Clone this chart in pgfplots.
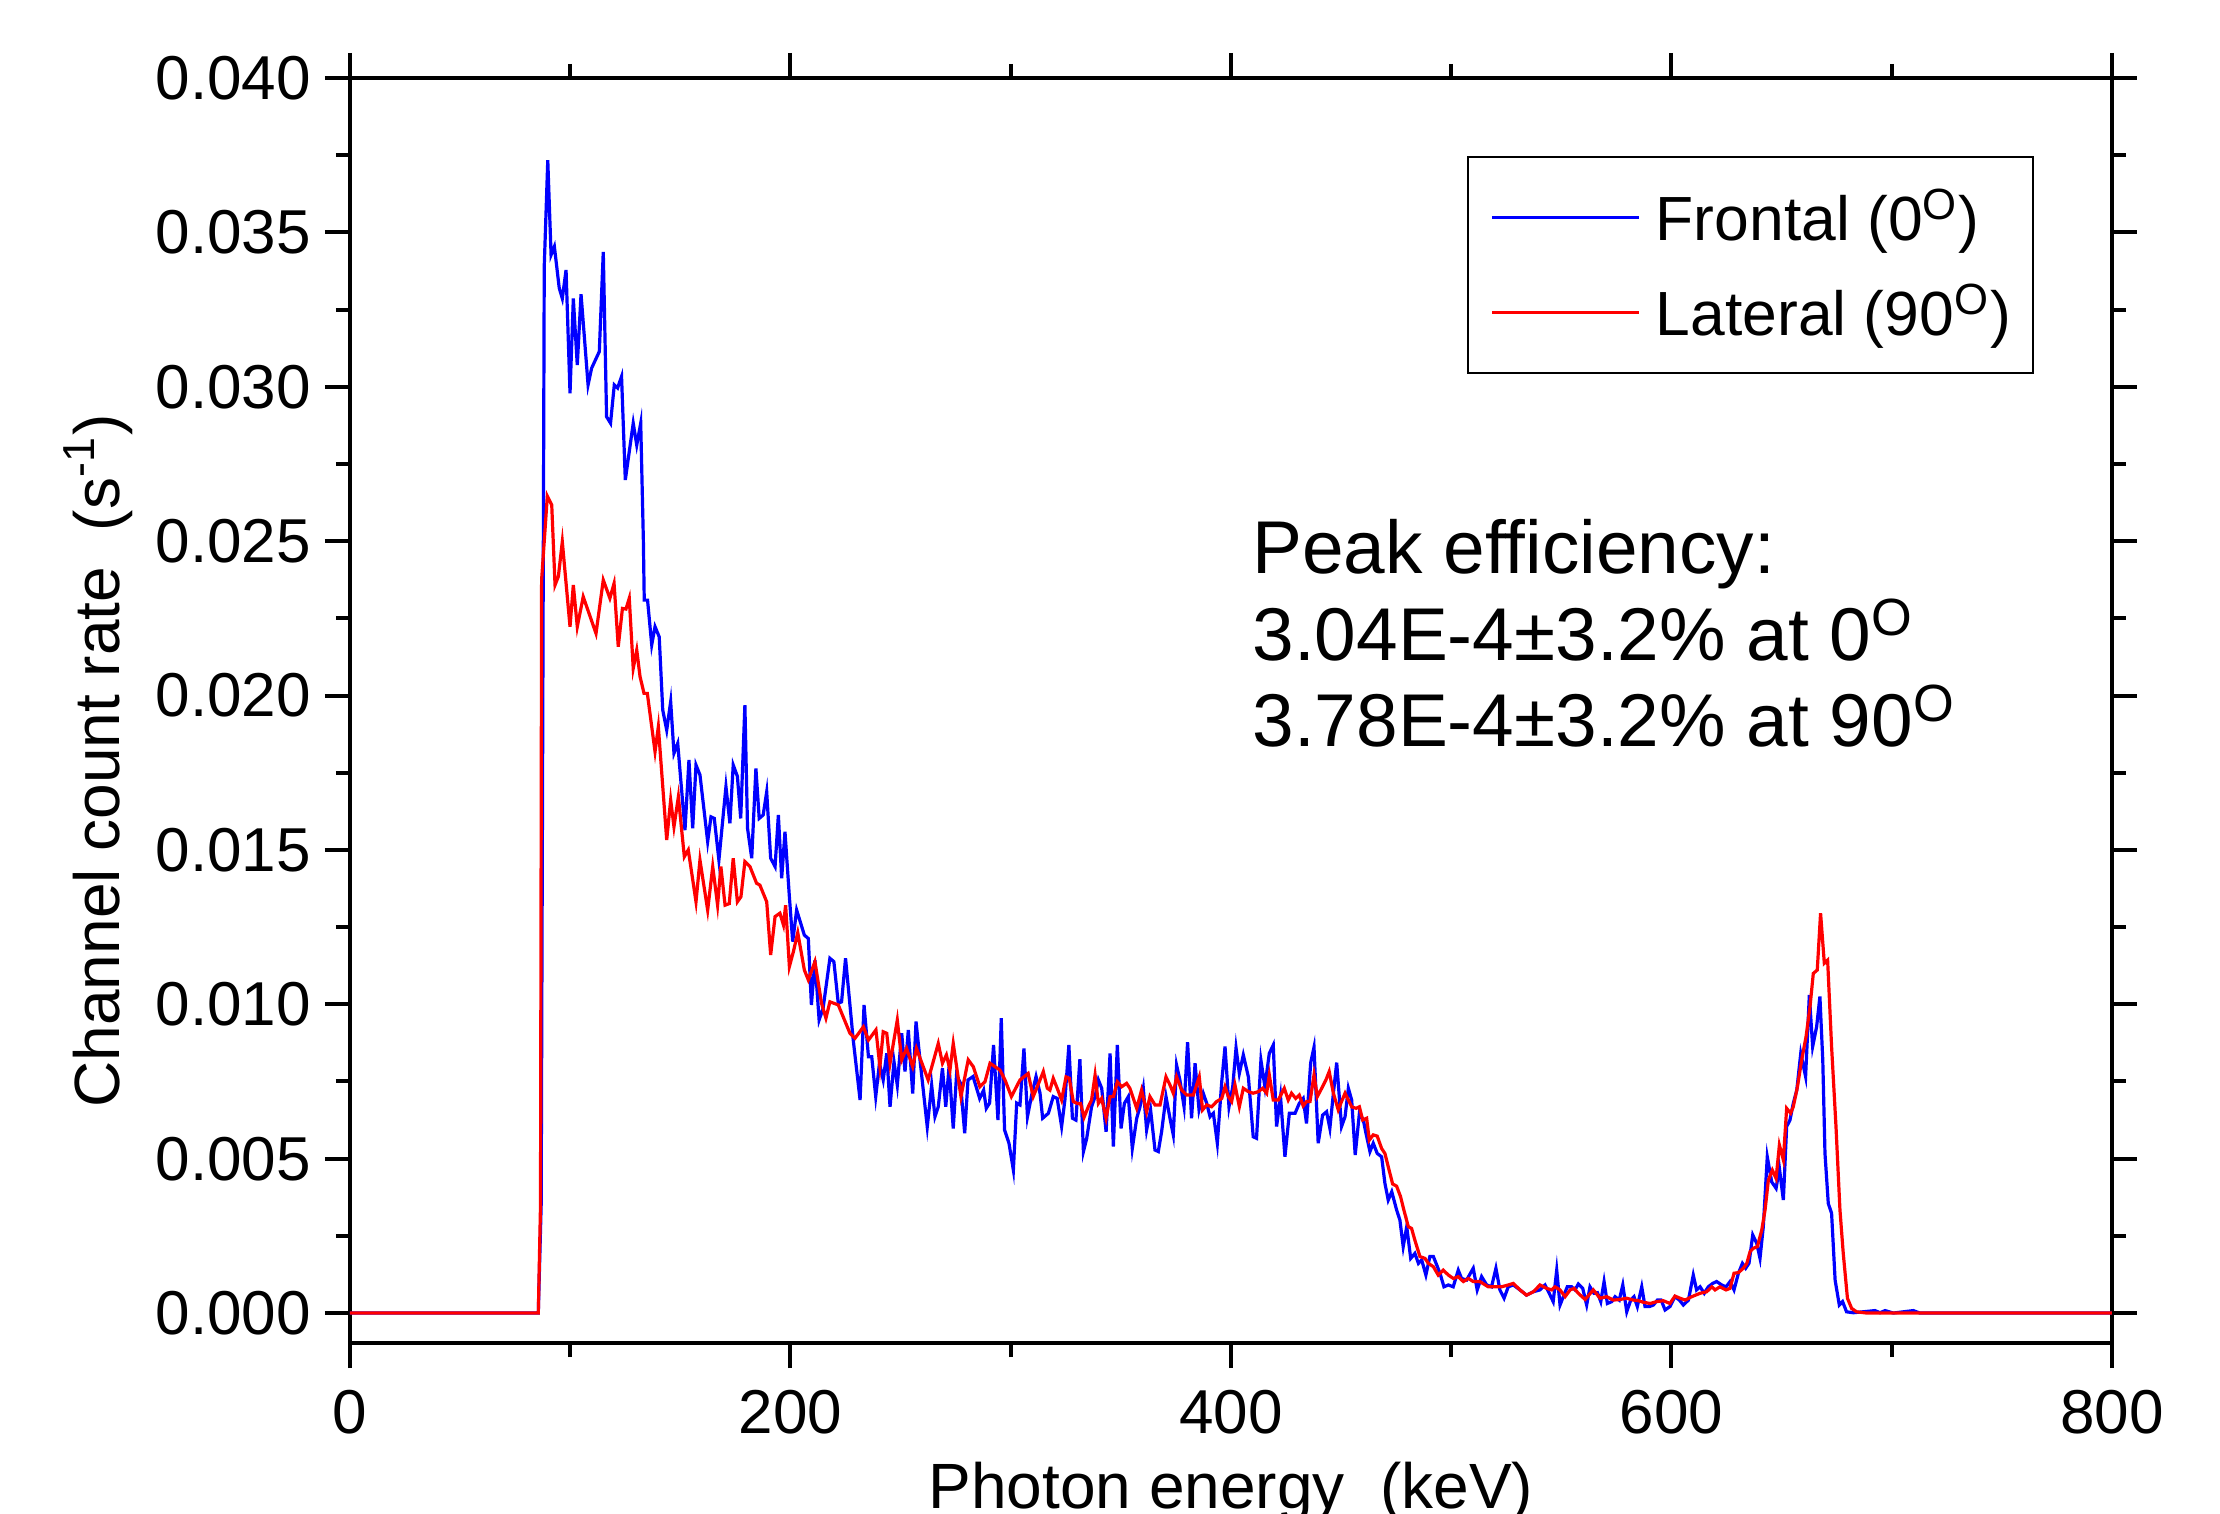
\documentclass[border=0pt]{standalone}
\usepackage{fontspec}
\setmainfont{Liberation Sans}
\usepackage{pgfplots}
\pgfplotsset{compat=1.18}

\begin{document}
\begin{tikzpicture}
\begin{axis}[
    scale only axis,
    width=440.5pt, height=316.25pt,
    xmin=0, xmax=800,
    ymin=-0.00097, ymax=0.040,
    xtick={0,200,400,600,800},
    minor xtick={100,300,500,700},
    ytick={0,0.005,0.010,0.015,0.020,0.025,0.030,0.035,0.040},
    minor ytick={0.0025,0.0075,0.0125,0.0175,0.0225,0.0275,0.0325,0.0375},
    scaled y ticks=false,
    yticklabel style={/pgf/number format/.cd, fixed, fixed zerofill, precision=3},
    /pgf/number format/assume math mode=true,
    tick label style={font=\fontsize{15.5}{18}\selectfont},
    xticklabel style={yshift=-2pt},
    tick align=outside,
    tick pos=both,
    major tick length=6.25pt,
    minor tick length=3.5pt,
    every tick/.style={black, line width=1pt},
    axis line style={line width=1pt},
    xlabel={Photon energy\ \ (keV)},
    ylabel={Channel count rate\ \ (s\textsuperscript{-1})},
    every axis x label/.style={at={(rel axis cs:0.5,0)}, anchor=base, yshift=-41.25pt,
        font=\fontsize{16}{19}\selectfont},
    every axis y label/.style={at={(rel axis cs:0,0.46)}, rotate=90, anchor=base, yshift=57.5pt,
        font=\fontsize{16}{19}\selectfont},
    legend style={at={(rel axis cs:0.9557,0.9383)}, anchor=north east,
        draw=black, line width=0.5pt,
        font=\fontsize{15.6}{19}\selectfont,
        nodes={inner sep=2pt},
        inner xsep=3.5pt, inner ysep=6pt, row sep=5.3pt,
        cells={anchor=west}},
    legend image code/.code={\path (-2.1pt,0pt); \draw[#1] (0pt,0pt) -- (36.75pt,0pt); \path (38.55pt,0pt);},
]

% Frontal (0 deg)
\addplot[color={rgb,255:red,0;green,0;blue,255}, line width=0.8pt] table {
x y
0 0
85.5 0
86.8 0.0035
88.2 0.0339
89.8 0.03734
91.3 0.03427
92.8 0.03454
95.0 0.0332
96.4 0.03286
98.1 0.03378
99.9 0.02979
101.4 0.03286
103.2 0.0307
104.9 0.0330
108.1 0.03006
109.7 0.0306
113.2 0.03114
115.0 0.03437
116.5 0.02903
118.3 0.02882
120.0 0.03006
121.5 0.02996
123.3 0.03033
125.0 0.02698
128.6 0.02882
130.2 0.02811
132.0 0.02882
133.2 0.02504
133.6 0.02309
135.1 0.02309
137.0 0.02164
138.5 0.02223
140.4 0.0219
142.0 0.01953
143.8 0.01888
145.6 0.0198
147.1 0.01813
148.8 0.01845
152.1 0.01564
153.9 0.01791
155.6 0.0157
157.1 0.01775
158.9 0.01743
162.4 0.01527
163.9 0.01607
165.4 0.01602
167.5 0.01467
170.7 0.01705
172.5 0.01586
174.0 0.01775
175.9 0.01738
177.4 0.01602
179.3 0.01969
180.5 0.0157
182.4 0.01473
184.3 0.01764
185.8 0.01602
187.6 0.01613
189.2 0.01688
191.0 0.01473
193.0 0.01446
194.5 0.01613
196.0 0.01408
197.5 0.01559
199.5 0.01348
201.0 0.01203
202.8 0.01305
206.3 0.01224
208.1 0.01213
209.5 0.00998
211.1 0.01143
213.0 0.00949
214.8 0.00987
217.9 0.01149
219.7 0.01138
221.7 0.01003
223.2 0.01008
225.0 0.01149
228.5 0.00884
231.6 0.0069
233.4 0.00998
235.4 0.0083
236.9 0.0083
238.7 0.00701
240.4 0.00809
242.1 0.00755
243.7 0.00841
245.2 0.00668
247.0 0.00814
248.5 0.00738
250.5 0.00906
252.0 0.00782
253.5 0.00917
255.5 0.00711
257.0 0.00944
258.8 0.0082
262.1 0.00603
264.1 0.00738
265.6 0.00636
267.1 0.00668
269.0 0.00793
270.5 0.00668
272.0 0.00798
273.9 0.00598
275.4 0.00771
277.2 0.00744
279.1 0.00582
280.6 0.00755
282.9 0.00766
285.9 0.00695
287.7 0.00722
288.9 0.00663
290.4 0.0068
292.2 0.00868
294.2 0.00625
295.7 0.00955
297.2 0.00593
299.2 0.0055
301.2 0.00463
302.7 0.0068
304.2 0.00674
306.0 0.00857
307.6 0.00636
309.5 0.00706
311.5 0.00766
313.3 0.00712
314.5 0.00631
317.1 0.00647
319.3 0.00701
321.1 0.00695
323.1 0.00604
324.6 0.00690
326.4 0.00868
328.0 0.00631
329.6 0.00625
331.4 0.00822
333.0 0.00523
334.5 0.00566
336.7 0.00668
338.3 0.00701
339.8 0.00755
341.3 0.00728
343.3 0.00587
345.1 0.00841
346.6 0.00539
348.4 0.00868
350.1 0.00598
351.6 0.00679
353.4 0.00701
355.2 0.00533
357.2 0.00631
358.7 0.00668
360.2 0.00728
361.7 0.00593
363.5 0.00658
365.5 0.00528
367.0 0.00523
368.5 0.00587
370.5 0.00701
372.3 0.00631
373.8 0.00577
375.3 0.00803
376.8 0.00755
378.7 0.00668
380.3 0.00877
382.1 0.00631
383.7 0.00809
385.5 0.00658
387.4 0.00712
389.0 0.00679
390.5 0.00636
392.0 0.00647
393.8 0.00550
395.8 0.00749
397.3 0.00863
399.1 0.00668
400.8 0.00733
402.3 0.00859
403.8 0.00776
405.6 0.00836
407.9 0.00765
410.1 0.00571
411.6 0.00566
413.6 0.00819
415.4 0.00733
417.4 0.00841
419.2 0.00868
420.7 0.00604
422.5 0.00701
424.5 0.00506
426.5 0.00647
429.1 0.00647
431.0 0.00679
432.8 0.00695
434.3 0.00614
436.2 0.00811
437.7 0.00861
439.6 0.00550
441.6 0.00641
443.4 0.00652
444.9 0.00598
446.5 0.00712
448.0 0.00811
450.2 0.00604
451.8 0.00636
453.3 0.00728
454.8 0.00690
456.4 0.00512
458.3 0.00647
460.1 0.00625
461.3 0.00582
463.1 0.00523
464.6 0.00550
466.4 0.00517
468.4 0.00506
469.9 0.00420
471.4 0.00366
473.0 0.00393
475.2 0.00334
476.7 0.00301
478.2 0.00215
479.8 0.00280
481.6 0.00177
483.5 0.00193
485.1 0.00161
486.6 0.00172
488.5 0.00123
490.3 0.00183
491.9 0.00183
494.9 0.00129
496.7 0.00085
498.7 0.00091
500.9 0.00085
503.2 0.00139
504.7 0.00112
507.0 0.00107
510.0 0.00145
511.8 0.00075
513.8 0.00118
516.1 0.00091
518.3 0.00085
520.3 0.00145
522.1 0.00075
524.0 0.00048
525.9 0.00085
528.2 0.00091
531.2 0.00075
534.2 0.00058
537.3 0.00069
540.3 0.00075
542.6 0.00091
544.5 0.00064
546.3 0.00037
547.9 0.00139
549.4 0.00026
550.9 0.00053
552.7 0.00085
554.7 0.00085
556.2 0.00075
557.7 0.00094
559.7 0.00080
561.5 0.00026
563.0 0.00085
564.8 0.00064
566.4 0.00066
567.9 0.00037
569.4 0.00102
570.9 0.00031
572.9 0.00037
574.4 0.00053
576.3 0.00042
577.9 0.00091
579.7 0.00004
581.5 0.00042
583.0 0.00053
584.5 0.00021
586.5 0.00085
588.0 0.00021
590.0 0.00021
591.8 0.00026
593.6 0.00042
595.3 0.00042
597.1 0.00010
599.3 0.00021
601.6 0.00053
603.6 0.00042
605.4 0.00026
607.7 0.00042
609.9 0.00123
611.4 0.00075
613.0 0.00085
614.9 0.00064
616.7 0.00085
618.7 0.00096
620.5 0.00102
622.8 0.00091
624.8 0.00085
626.6 0.00102
628.4 0.00075
630.4 0.00129
632.2 0.00161
633.7 0.00145
635.2 0.00161
636.9 0.00253
638.7 0.00226
640.2 0.00177
641.7 0.00280
643.5 0.00506
645.5 0.00425
647.5 0.00404
649.0 0.00469
650.8 0.00366
652.3 0.00604
653.8 0.00625
655.3 0.00679
656.9 0.00722
658.7 0.00841
660.9 0.00766
662.6 0.01030
664.1 0.00863
665.9 0.00927
667.4 0.01025
668.7 0.00819
669.7 0.00517
671.2 0.00355
672.7 0.00323
674.3 0.00107
676.2 0.00026
677.7 0.00037
679.5 0.00004
682.6 0.00001
692.4 0.00008
694.7 0.00001
697.0 0.00008
700.7 0
709.8 0.00008
712.8 0
800 0
};
\addlegendentry{Frontal (0\textsuperscript{O})}

% Lateral (90 deg)
\addplot[color={rgb,255:red,255;green,0;blue,0}, line width=0.8pt] table {
x y
0 0
85.5 0
86.5 0.0035
87.0 0.02374
89.6 0.02646
91.6 0.02617
93.1 0.02358
94.6 0.02385
96.4 0.02498
99.9 0.02223
101.4 0.02358
103.2 0.02223
105.9 0.0232
111.7 0.02201
115.0 0.02374
118.0 0.02315
119.9 0.02363
121.8 0.02158
123.7 0.02282
125.3 0.0228
126.8 0.02315
128.6 0.02088
130.2 0.02147
131.7 0.02061
133.5 0.02007
135.0 0.02007
138.5 0.01818
140.0 0.01899
143.8 0.01532
145.6 0.01662
147.1 0.01575
149.1 0.01672
151.8 0.01478
153.6 0.015
157.1 0.01332
158.9 0.01467
162.4 0.01305
164.7 0.01446
166.9 0.01321
168.4 0.01446
170.3 0.01321
172.2 0.01326
174.0 0.01473
175.9 0.01332
177.5 0.01348
179.3 0.01462
181.6 0.01446
184.6 0.01392
186.1 0.01386
189.2 0.01332
191.0 0.0116
193.0 0.01284
195.2 0.01295
196.8 0.01257
197.8 0.01321
199.5 0.01122
201.3 0.0117
203.3 0.01232
206.3 0.01111
208.1 0.01079
211.1 0.01138
214.1 0.01003
216.1 0.00955
217.9 0.01008
221.7 0.00998
227.0 0.00906
229.3 0.0089
233.1 0.00927
235.4 0.00884
238.8 0.00917
240.6 0.00798
242.1 0.00911
243.7 0.00906
245.2 0.00809
248.5 0.00949
250.5 0.0082
252.7 0.00857
255.5 0.00798
257.2 0.00857
262.5 0.00755
267.1 0.00873
269.0 0.00809
270.8 0.00836
272.4 0.00787
273.9 0.00873
277.4 0.00701
280.7 0.0082
283.0 0.00798
286.0 0.00733
288.3 0.00749
290.6 0.00809
295.1 0.00787
297.4 0.00755
300.3 0.00701
304.2 0.00755
307.9 0.00776
310.2 0.00701
313.3 0.00755
314.8 0.00782
316.6 0.00728
317.8 0.00722
319.3 0.00760
321.1 0.00728
323.1 0.00690
325.1 0.00765
326.6 0.00760
328.4 0.00685
330.2 0.00679
331.7 0.00679
333.3 0.00634
335.2 0.00668
336.7 0.00690
338.3 0.00771
339.8 0.00679
341.3 0.00695
343.3 0.00631
345.1 0.00701
346.6 0.00701
348.4 0.00749
350.4 0.00733
352.6 0.00744
354.1 0.00728
357.2 0.00663
359.4 0.00722
361.7 0.00652
363.2 0.00701
365.5 0.00674
367.8 0.00674
370.5 0.00765
372.3 0.00739
373.8 0.00712
375.3 0.00765
377.6 0.00722
379.9 0.00706
382.9 0.00706
385.6 0.00765
387.1 0.00658
389.0 0.00674
391.2 0.00668
393.5 0.00685
395.8 0.00695
397.3 0.00733
398.8 0.00701
400.3 0.00685
401.8 0.00739
403.8 0.00668
405.6 0.00728
407.9 0.00717
410.1 0.00712
412.4 0.00717
414.4 0.00728
416.2 0.00712
417.4 0.00771
419.2 0.00690
421.5 0.00690
424.2 0.00728
426.0 0.00690
427.5 0.00712
429.4 0.00695
431.0 0.00706
432.8 0.00671
434.3 0.00685
435.9 0.00685
437.7 0.00771
439.2 0.00701
441.2 0.00728
443.1 0.00755
444.6 0.00782
446.5 0.00712
448.7 0.00658
450.2 0.00685
451.8 0.00712
453.3 0.00690
454.8 0.00668
456.8 0.00663
458.3 0.00668
459.8 0.00625
461.6 0.00631
462.8 0.00560
464.6 0.00577
466.4 0.00573
468.4 0.00533
469.9 0.00517
471.4 0.00474
473.4 0.00418
475.2 0.00411
477.0 0.00377
478.5 0.00334
480.5 0.00280
482.0 0.00274
483.5 0.00236
485.8 0.00183
488.1 0.00177
489.6 0.00161
491.9 0.00150
494.1 0.00123
496.4 0.00139
498.7 0.00123
501.0 0.00112
503.2 0.00118
505.5 0.00102
507.8 0.00112
510.0 0.00102
513.0 0.00102
516.8 0.00085
519.9 0.00085
522.9 0.00085
525.9 0.00091
528.2 0.00096
531.2 0.00075
534.2 0.00058
537.3 0.00069
540.3 0.00091
543.3 0.00080
545.6 0.00075
547.1 0.00085
549.4 0.00075
551.7 0.00053
554.0 0.00075
555.8 0.00080
557.7 0.00064
560.8 0.00044
564.5 0.00075
567.6 0.00048
570.6 0.00053
573.6 0.00042
576.6 0.00044
579.7 0.00048
582.7 0.00042
585.0 0.00040
587.2 0.00035
590.3 0.00031
593.3 0.00037
596.3 0.00040
599.3 0.00031
601.6 0.00055
603.9 0.00048
606.2 0.00042
609.2 0.00053
613.0 0.00064
616.0 0.00069
618.3 0.00085
619.8 0.00075
622.0 0.00085
624.8 0.00075
626.6 0.00080
628.4 0.00129
630.4 0.00131
632.6 0.00145
634.2 0.00161
635.7 0.00199
637.2 0.00210
639.0 0.00215
641.0 0.00269
642.5 0.00334
644.0 0.00431
645.8 0.00463
647.5 0.00436
649.0 0.00544
650.8 0.00496
652.3 0.00663
654.1 0.00647
655.3 0.00668
657.2 0.00733
659.1 0.00819
661.1 0.00895
662.9 0.00992
664.4 0.01100
666.2 0.01111
667.7 0.01295
669.4 0.01133
670.9 0.01143
672.7 0.00863
674.7 0.00604
676.5 0.00334
678.0 0.00193
679.9 0.00048
681.8 0.00015
684.1 0.00004
688.6 0
800 0
};
\addlegendentry{Lateral (90\textsuperscript{O})}

\node[anchor=base west, inner sep=0pt, font=\fontsize{18.7}{22}\selectfont] at (axis cs:409.4,0.02395) {Peak efficiency:};
\node[anchor=base west, inner sep=0pt, font=\fontsize{18.7}{22}\selectfont] at (axis cs:409.4,0.02112) {3.04E-4±3.2\% at 0\textsuperscript{O}};
\node[anchor=base west, inner sep=0pt, font=\fontsize{18.7}{22}\selectfont] at (axis cs:409.4,0.01836) {3.78E-4±3.2\% at 90\textsuperscript{O}};
\end{axis}
\pgfresetboundingbox
\path[use as bounding box] (-87.5pt,-42.5pt) rectangle (467.5pt,335.75pt);
\end{tikzpicture}
\end{document}
